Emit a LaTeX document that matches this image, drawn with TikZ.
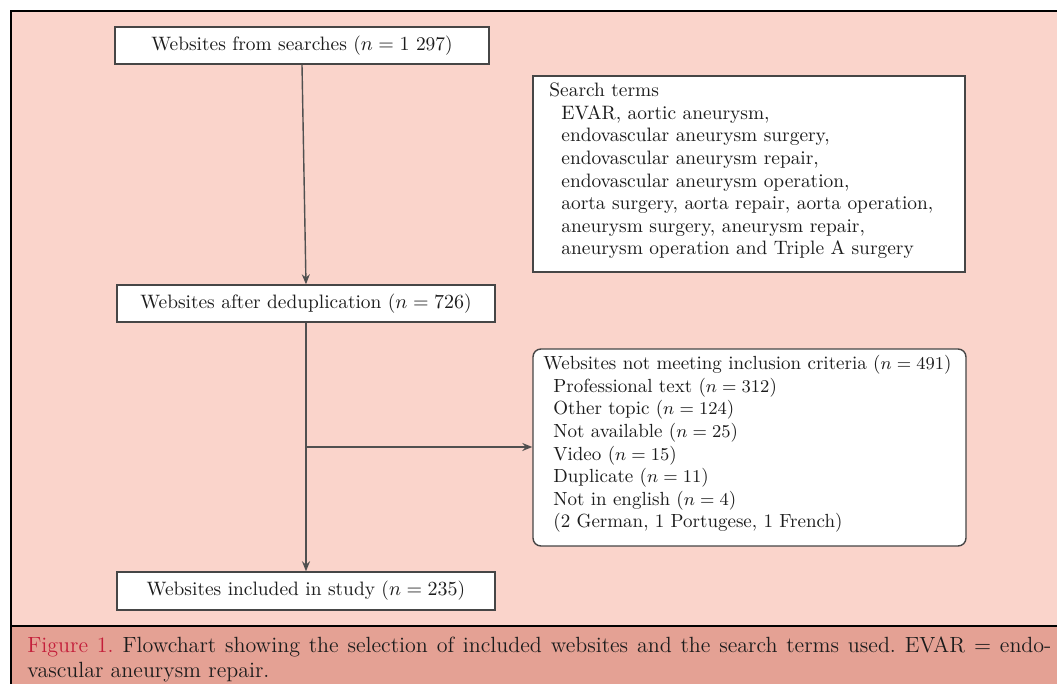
\documentclass[tikz,border=0pt]{standalone}
\usetikzlibrary{arrows.meta}
\definecolor{bgpink}{RGB}{250,212,203}
\definecolor{cappink}{RGB}{228,161,148}
\definecolor{figred}{RGB}{196,30,58}
\definecolor{boxline}{RGB}{70,70,70}
\definecolor{conline}{RGB}{80,80,80}
\definecolor{txt}{RGB}{28,28,28}
\begin{document}
\begin{tikzpicture}[x=0.5pt,y=-0.5pt,
  flowbox/.style={draw=boxline,fill=white,line width=0.7pt,inner sep=0pt,
    text=txt,font=\fontsize{9.7}{11.3}\selectfont},
  roundbox/.style={flowbox,rounded corners=4pt},
  listtext/.style={anchor=west,align=left,inner sep=0pt,text=txt,
    font=\fontsize{9.7}{11.3}\selectfont},
  conn/.style={draw=conline,line width=0.7pt},
  arr/.style={conn,-{Stealth[length=5pt,width=4pt,fill=black!85]}}]
\useasboundingbox (0,0) rectangle (1057,684);
\fill[white] (0,0) rectangle (1057,684);
\fill[bgpink] (11,11) rectangle (1057,626);
\fill[cappink] (11,626) rectangle (1057,684);
\draw[line width=1pt] (11,684) -- (11,11) -- (1057,11);
\draw[line width=0.7pt] (11,626) -- (1057,626);

\node[flowbox,minimum width=187pt,minimum height=18.5pt] (b1) at (302,45.5)
  {Websites from searches ($n = 1$ 297)};
\node[flowbox,minimum width=189pt,minimum height=18.5pt] (b2) at (306,303.5)
  {Websites after deduplication ($n = 726$)};
\node[flowbox,minimum width=189pt,minimum height=19pt] (b5) at (306,591)
  {Websites included in study ($n = 235$)};
\node[flowbox,minimum width=216pt,minimum height=98pt] (b3) at (749,174) {};
\node[listtext] (t3) at (549,171) {Search terms\\
  \hspace*{6pt}EVAR, aortic aneurysm,\\
  \hspace*{6pt}endovascular aneurysm surgery,\\
  \hspace*{6pt}endovascular aneurysm repair,\\
  \hspace*{6pt}endovascular aneurysm operation,\\
  \hspace*{6pt}aorta surgery, aorta repair, aorta operation,\\
  \hspace*{6pt}aneurysm surgery, aneurysm repair,\\
  \hspace*{6pt}aneurysm operation and Triple A surgery};
\node[roundbox,minimum width=216.5pt,minimum height=98.5pt] (b4) at (749.5,447.5) {};
\node[listtext,font=\fontsize{9.5}{11.3}\selectfont] (t4) at (543,444)
  {Websites not meeting inclusion criteria ($n = 491$)\\
  \hspace*{5pt}Professional text ($n = 312$)\\
  \hspace*{5pt}Other topic ($n = 124$)\\
  \hspace*{5pt}Not available ($n = 25$)\\
  \hspace*{5pt}Video ($n = 15$)\\
  \hspace*{5pt}Duplicate ($n = 11$)\\
  \hspace*{5pt}Not in english ($n = 4$)\\
  \hspace*{5pt}(2 German, 1 Portugese, 1 French)};

\coordinate (j) at (306,447);
\draw[arr] (b1.south) -- (b2.north);
\draw[arr] (b2.south) -- (b5.north);
\draw[arr] (j) -- (j -| b4.west);

\node[anchor=north west,inner sep=0pt,text width=512pt,align=justify,
  font=\fontsize{11}{12.5}\selectfont,text=txt] (cap) at (27,636)
  {\frenchspacing\textcolor{figred}{Figure 1.} Flowchart showing the selection of included websites and the search terms used. EVAR $=$ endo\-\kern0pt-\linebreak vascular aneurysm repair.};
\end{tikzpicture}
\end{document}
